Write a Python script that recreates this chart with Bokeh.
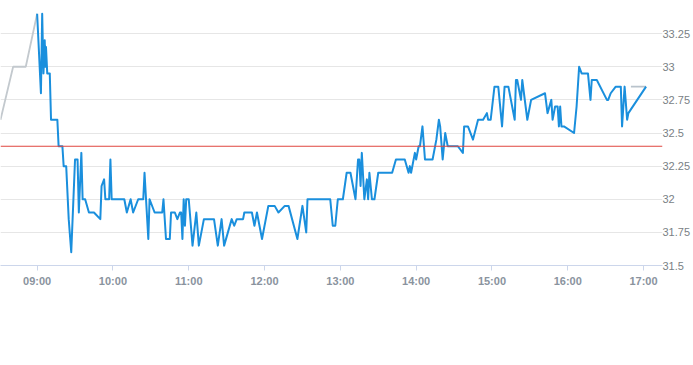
import pandas as pd
from bokeh.plotting import figure
from bokeh.models import Range1d, FixedTicker, DatetimeTickFormatter, Span
from bokeh.embed import file_html
from bokeh.resources import INLINE

DAY = "2024-01-02 "

pre_times = ["08:31", "08:41", "08:51", "09:00"]
pre_prices = [32.60, 33.00, 33.00, 33.40]

times = [
    "09:00", "09:03", "09:04", "09:05", "09:06", "09:06:30", "09:07", "09:08", "09:10", "09:11",
    "09:16", "09:17", "09:20", "09:21", "09:23", "09:25", "09:27", "09:30", "09:32", "09:33",
    "09:35", "09:36", "09:38", "09:41", "09:45", "09:50", "09:51", "09:53", "09:54", "09:57",
    "09:58", "09:59", "10:09", "10:11", "10:14", "10:16", "10:20", "10:24", "10:25", "10:28",
    "10:29", "10:33", "10:39", "10:40", "10:42", "10:45", "10:46", "10:49", "10:51", "10:53",
    "10:54", "10:55", "10:56", "10:57", "10:58", "11:00", "11:03", "11:06", "11:08", "11:12",
    "11:20", "11:23", "11:26", "11:28", "11:34", "11:36", "11:38", "11:43", "11:44", "11:50",
    "11:52", "11:54", "11:58", "12:03", "12:08", "12:11", "12:16", "12:19", "12:26", "12:30",
    "12:33", "12:34", "12:52", "12:54", "12:56", "12:58", "13:02", "13:05", "13:08", "13:12",
    "13:14", "13:15", "13:16", "13:17", "13:19", "13:21", "13:22", "13:23", "13:25", "13:27",
    "13:30", "13:41", "13:44", "13:51", "13:54", "13:55", "13:56", "13:59", "14:00", "14:02",
    "14:03", "14:05", "14:07", "14:13", "14:16", "14:18", "14:19", "14:21", "14:23", "14:25",
    "14:33", "14:37", "14:38", "14:41", "14:45", "14:49", "14:53", "14:56", "14:57", "14:59",
    "15:02", "15:05", "15:08", "15:10", "15:13", "15:18", "15:19", "15:20", "15:23", "15:24",
    "15:28", "15:31", "15:42", "15:44", "15:47", "15:48", "15:50", "15:52", "15:53", "15:54",
    "15:55", "15:57", "16:05", "16:07", "16:09", "16:11", "16:16", "16:18", "16:19", "16:23",
    "16:31", "16:32", "16:34", "16:38", "16:42", "16:43", "16:45", "16:47", "16:48", "17:02",
]
prices = [
    33.40, 32.80, 33.40, 32.95, 33.20, 33.00, 33.15, 32.95, 32.95, 32.60,
    32.60, 32.40, 32.40, 32.25, 32.25, 31.85, 31.60, 32.30, 32.30, 31.90,
    32.35, 32.00, 32.00, 31.90, 31.90, 31.85, 32.10, 32.15, 32.00, 32.00,
    32.30, 32.00, 32.00, 31.90, 32.00, 31.90, 32.00, 32.00, 32.20, 31.70,
    32.00, 31.90, 31.90, 32.00, 31.70, 31.70, 31.90, 31.90, 31.85, 31.90,
    31.90, 31.70, 32.00, 31.80, 32.00, 32.00, 31.65, 31.90, 31.65, 31.85,
    31.85, 31.65, 31.85, 31.65, 31.85, 31.80, 31.85, 31.85, 31.90, 31.90,
    31.80, 31.90, 31.70, 31.95, 31.95, 31.90, 31.95, 31.95, 31.70, 31.95,
    31.75, 32.00, 32.00, 31.80, 31.80, 32.00, 32.00, 32.20, 32.20, 32.00,
    32.30, 32.30, 32.10, 32.35, 32.00, 32.15, 32.00, 32.20, 32.00, 32.00,
    32.20, 32.20, 32.30, 32.30, 32.20, 32.25, 32.20, 32.35, 32.30, 32.40,
    32.40, 32.55, 32.30, 32.30, 32.45, 32.60, 32.55, 32.30, 32.50, 32.40,
    32.40, 32.35, 32.55, 32.55, 32.45, 32.60, 32.60, 32.65, 32.60, 32.60,
    32.85, 32.85, 32.55, 32.85, 32.85, 32.60, 32.90, 32.90, 32.75, 32.90,
    32.60, 32.75, 32.80, 32.65, 32.75, 32.60, 32.70, 32.70, 32.55, 32.70,
    32.55, 32.55, 32.50, 32.70, 33.00, 32.95, 32.95, 32.75, 32.90, 32.90,
    32.75, 32.75, 32.80, 32.85, 32.85, 32.55, 32.85, 32.60, 32.65, 32.85,
]

post_times = ["16:50", "17:02"]
post_prices = [32.85, 32.85]

prev_close = 32.40

y_ticks = [31.5, 31.75, 32.0, 32.25, 32.5, 32.75, 33.0, 33.25]
y_tick_labels = ["31.5", "31.75", "32", "32.25", "32.5", "32.75", "33", "33.25"]
x_tick_labels = ["09:00", "10:00", "11:00", "12:00", "13:00", "14:00", "15:00", "16:00", "17:00"]
x_start, x_end = "08:31", "17:15"
y_start, y_end = 31.5, 33.5


def ts(t):
    return pd.Timestamp(DAY + t)


p = figure(
    width=693, height=365, output_backend="svg", toolbar_location=None,
    x_axis_type="datetime", y_axis_location="right",
    x_range=Range1d(ts(x_start), ts(x_end)), y_range=Range1d(y_start, y_end),
    min_border_left=0, min_border_top=0, min_border_right=28, min_border_bottom=100,
)
p.outline_line_color = None
p.background_fill_color = "white"
p.border_fill_color = "white"

p.xgrid.grid_line_color = None
p.ygrid.grid_line_color = "#e6e6e6"
p.ygrid.grid_line_width = 1

# x axis
xa = p.xaxis[0]
xa.ticker = FixedTicker(ticks=[ts(t).value / 1e6 for t in x_tick_labels])
xa.formatter = DatetimeTickFormatter(hours="%H:%M", minutes="%H:%M", hourmin="%H:%M", days="%H:%M")
xa.axis_line_color = "#ccd6eb"
xa.major_tick_line_color = "#ccd6eb"
xa.major_tick_out = 5
xa.major_tick_in = 0
xa.minor_tick_line_color = None
xa.minor_tick_out = 0
xa.minor_tick_in = 0
xa.major_label_text_color = "#8a939e"
xa.major_label_text_font = "Liberation Sans"
xa.major_label_text_font_size = "11px"
xa.major_label_text_font_style = "bold"
xa.major_label_standoff = 4

# y axis
ya = p.yaxis[0]
ya.ticker = FixedTicker(ticks=y_ticks)
ya.major_label_overrides = {t: l for t, l in zip(y_ticks, y_tick_labels)}
ya.axis_line_color = None
ya.major_tick_line_color = None
ya.minor_tick_line_color = None
ya.major_tick_out = 0
ya.major_tick_in = 0
ya.minor_tick_out = 0
ya.minor_tick_in = 0
ya.major_label_text_color = "#7a7f85"
ya.major_label_text_font = "Liberation Sans"
ya.major_label_text_font_size = "11px"
ya.major_label_text_align = "right"
ya.major_label_standoff = 0

p.line([ts(t) for t in pre_times], pre_prices, line_color="#c3c9ce", line_width=1.8)
p.line([ts(t) for t in post_times], post_prices, line_color="#b9c3cc", line_width=1.8)
p.line([ts(t) for t in times], prices, line_color="#1a8fdd", line_width=2, line_join="round")

p.add_layout(Span(location=prev_close, dimension="width", line_color="#e0463f", line_width=1))

open("out.html", "w").write(file_html(p, INLINE))
